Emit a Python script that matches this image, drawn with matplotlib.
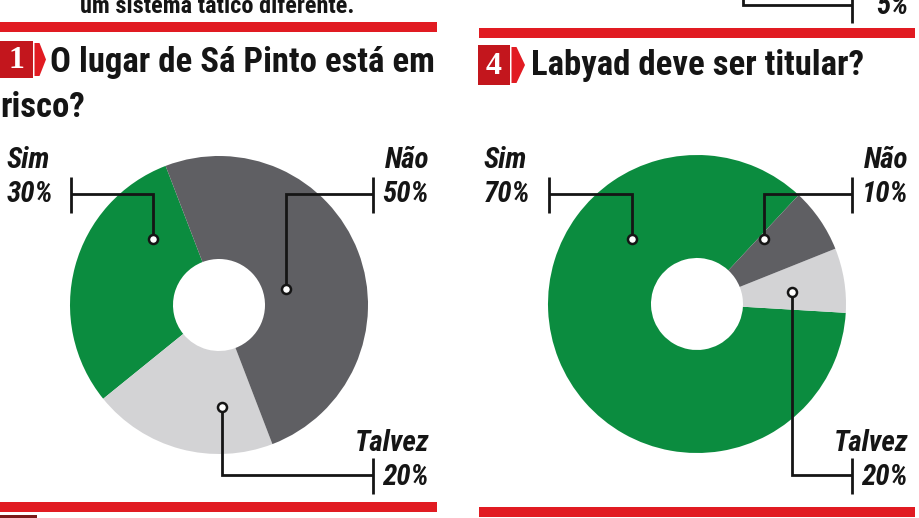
import matplotlib
matplotlib.use("Agg")
import matplotlib.pyplot as plt
from matplotlib import font_manager as fm
from matplotlib.patches import Rectangle, Polygon

# ---------------- data ----------------
categories = ["Sim", "Não", "Talvez"]
q1_title = ["O lugar de Sá Pinto está em", "risco?"]
q1_labels = ["30%", "50%", "20%"]          # printed percentages
q1_shares = [30, 50, 20]                   # slice sizes as drawn
q4_title = ["Labyad deve ser titular?"]
q4_labels = ["70%", "10%", "20%"]          # printed percentages
q4_shares = [86, 7, 7]                     # slice sizes as drawn in the picture
top_text = "um sistema tático diferente."
top_right_label = "5%"

colors = {"Sim": "#0b8c3f", "Não": "#5f5f63", "Talvez": "#d3d3d5"}
RED = "#e11b22"
BADGE = "#c3161d"

W, H = 920, 518
names = {f.name for f in fm.fontManager.ttflist}


def pick(cands):
    for c in cands:
        if c in names:
            return c
    return "DejaVu Sans"


COND = pick(["Roboto Condensed", "Liberation Sans Narrow", "Open Sans Condensed", "DejaVu Sans"])
SERIF = pick(["Liberation Serif", "DejaVu Serif"])

fig = plt.figure(figsize=(W / 100, H / 100), dpi=100)
ax = fig.add_axes([0, 0, 1, 1])


def Y(y):
    return H - y


def donut(shares, start, cx, cy):
    order = [0, 2, 1]  # Sim, Talvez, Não counter-clockwise
    ax.pie([shares[i] for i in order],
           colors=[colors[categories[i]] for i in order],
           startangle=start, counterclock=True, radius=149,
           center=(cx, Y(cy)), frame=True,
           wedgeprops=dict(width=103, edgecolor="none", linewidth=0))


donut(q1_shares, 111, 219, 305)
donut(q4_shares, 47, 697, 304)

LW = 2.0
LC = "#151515"


def leader(pts, tick_x, tick_y0, tick_y1, dot):
    xs = [p[0] for p in pts]
    ys = [Y(p[1]) for p in pts]
    ax.plot(xs, ys, color=LC, lw=LW, solid_capstyle="butt", solid_joinstyle="miter", zorder=5)
    ax.plot([tick_x, tick_x], [Y(tick_y0), Y(tick_y1)], color=LC, lw=LW,
            solid_capstyle="butt", zorder=5)
    if dot is not None:
        ax.plot([dot[0]], [Y(dot[1])], marker="o", ms=6.5, mfc="white", mec=LC, mew=1.8, zorder=6)


# chart 1 leaders
leader([(71, 194), (153, 194), (153, 235)], 71, 177, 213, (153, 239))
leader([(373, 194), (286, 194), (286, 285)], 373, 177, 213, (286, 289))
leader([(222, 411), (222, 475), (373, 475)], 373, 458, 494, (222, 407))
# chart 2 leaders
leader([(549, 194), (632, 194), (632, 235)], 549, 177, 213, (632, 239))
leader([(852, 194), (764, 194), (764, 235)], 852, 177, 213, (764, 239))
leader([(792, 296), (792, 475), (852, 475)], 852, 458, 494, (792, 292))
# top-right leftover leader
leader([(743, -2), (743, 5), (852, 5)], 852, -2, 23, None)

lab_kw = dict(family=COND, fontweight="bold", fontstyle="italic", fontsize=21,
              color="#151515", fontstretch="condensed")


def label_pair(x, name_y, pct_y, name, pct, ha):
    ax.text(x, Y(name_y), name, ha=ha, va="baseline", **lab_kw)
    ax.text(x, Y(pct_y), pct, ha=ha, va="baseline", **lab_kw)


label_pair(7, 168, 202, categories[0], q1_labels[0], "left")
label_pair(429, 168, 202, categories[1], q1_labels[1], "right")
label_pair(429, 451, 485, categories[2], q1_labels[2], "right")
label_pair(484, 168, 202, categories[0], q4_labels[0], "left")
label_pair(908, 168, 202, categories[1], q4_labels[1], "right")
label_pair(908, 451, 485, categories[2], q4_labels[2], "right")
ax.text(908, Y(14), top_right_label, ha="right", va="baseline", **lab_kw)

# red rules
for x0, x1, y0, y1 in [(0, 437, 22, 32), (479, 915, 28, 38),
                       (0, 437, 502, 512), (479, 915, 507, 517)]:
    ax.add_patch(Rectangle((x0, Y(y1)), x1 - x0, y1 - y0, color=RED, lw=0, zorder=3))
ax.add_patch(Rectangle((0, Y(518)), 37, 3, color="#7a1a1a", lw=0, zorder=3))

# top cut-off text
ax.text(217, Y(13), top_text, ha="center", va="baseline", family=COND,
        fontweight="bold", fontsize=17.5, color="#151515", fontstretch="condensed")


def badge(x0, y0, x1, y1, tip, num):
    ax.add_patch(Rectangle((x0, Y(y1)), x1 - x0, y1 - y0, color=BADGE, lw=0, zorder=3))
    ym = (y0 + y1) / 2
    ax.add_patch(Polygon([(x1 + 1.5, Y(y0 + 2)), (x1 + 1.5 + 5, Y(y0 + 2)), (tip, Y(ym)),
                          (x1 + 1.5 + 5, Y(y1 - 2)), (x1 + 1.5, Y(y1 - 2))],
                         closed=True, color=RED, lw=0, zorder=3))
    ax.text((x0 + x1) / 2, Y(ym + 1), num, ha="center", va="center", family=SERIF,
            fontweight="bold", fontsize=23, color="white", zorder=4)


badge(0, 41, 33, 78, 46, "1")
badge(478, 45, 510, 85, 525, "4")

head_kw = dict(family=COND, fontweight="bold", fontsize=25, color="#151515",
               fontstretch="condensed", va="baseline")
ax.text(50, Y(72), q1_title[0], ha="left", **head_kw)
ax.text(0, Y(117), q1_title[1], ha="left", **head_kw)
ax.text(531, Y(75), q4_title[0], ha="left", **head_kw)

ax.set_xlim(0, W)
ax.set_ylim(0, H)
ax.set_aspect("equal")
ax.axis("off")
fig.savefig("out.png", dpi=100, facecolor="white")
